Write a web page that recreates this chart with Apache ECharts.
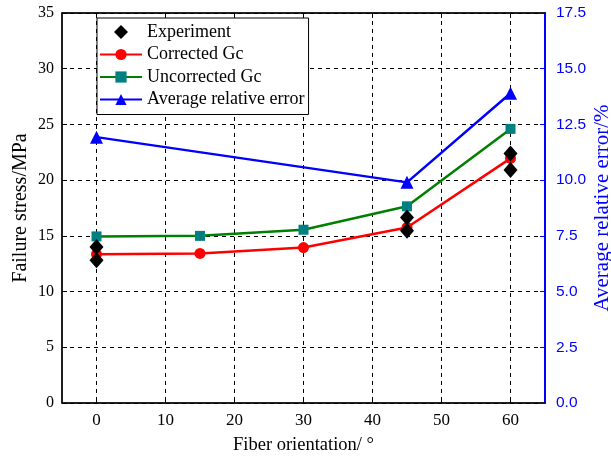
<!DOCTYPE html>
<html>
<head>
<meta charset="utf-8">
<script src="https://cdn.jsdelivr.net/npm/echarts@6/dist/echarts.min.js"></script>
<style>html,body{margin:0;padding:0;background:#fff}#c{width:611px;height:457px}</style>
</head>
<body>
<div id="c"></div>
<script>
// Fiber orientation (degrees)
var angles = [0, 15, 30, 45, 60];
var xTicks = [0, 10, 20, 30, 40, 50, 60];
// Measured failure stress (two specimens per orientation)
var expAngles = [0, 0, 45, 45, 60, 60];
var expStress = [14.0, 12.8, 16.65, 15.45, 22.4, 20.9];
// Predicted failure stress (MPa)
var correctedGc = [13.35, 13.42, 13.95, 15.75, 21.95];
var uncorrectedGc = [14.95, 15.0, 15.55, 17.65, 24.6];
// Average relative error (%)
var errAngles = [0, 45, 60];
var avgError = [11.93, 9.9, 13.9];

var serif = '"Liberation Serif", "Times New Roman", serif';
var sans = '"Liberation Sans", Arial, sans-serif';

function pairs(xs, ys) { return xs.map(function (x, i) { return [x, ys[i]]; }); }

var chart = echarts.init(document.getElementById('c'));
chart.setOption({
  animation: false,
  grid: {
    left: 62, right: 66, top: 13, bottom: 54,
    containLabel: false, outerBoundsMode: 'none',
    show: true, borderColor: '#000', borderWidth: 1
  },
  legend: {
    left: 97, top: 18, orient: 'vertical', itemGap: 4.5,
    itemWidth: 42, itemHeight: 14, symbolKeepAspect: true,
    borderColor: '#000', borderWidth: 1, backgroundColor: '#fff',
    padding: [5, 4, 6, 2],
    textStyle: { fontFamily: serif, fontSize: 18, color: '#000' },
    data: [
      { name: 'Experiment', icon: 'path://M0,-1L1,0L0,1L-1,0Z' },
      'Corrected Gc', 'Uncorrected Gc', 'Average relative error'
    ]
  },
  xAxis: [{
    type: 'value', min: -5, max: 65,
    name: 'Fiber orientation/ \u00b0', nameLocation: 'middle', nameGap: 33, nameMoveOverlap: false,
    nameTextStyle: { fontFamily: serif, fontSize: 18.5, color: '#000' },
    axisLine: { lineStyle: { color: '#000', width: 1.5 } },
    axisTick: { inside: true, customValues: xTicks, lineStyle: { color: '#000' } },
    axisLabel: { customValues: xTicks, fontFamily: serif, fontSize: 17, color: '#000', margin: 9 },
    splitLine: { show: true, customValues: xTicks, lineStyle: { color: '#000', type: [4, 4] } }
  }, {
    type: 'value', min: -5, max: 65, position: 'top',
    axisLine: { show: true, onZero: false, lineStyle: { color: '#000', width: 1.5 } },
    axisTick: { inside: true, customValues: xTicks, lineStyle: { color: '#000' } },
    axisLabel: { show: false },
    splitLine: { show: false }
  }],
  yAxis: [{
    type: 'value', min: 0, max: 35, interval: 5,
    name: 'Failure stress/MPa', nameLocation: 'middle', nameGap: 31, nameMoveOverlap: false,
    nameTextStyle: { fontFamily: serif, fontSize: 20, color: '#000' },
    axisLine: { show: true, onZero: false, lineStyle: { color: '#000', width: 1.5 } },
    axisTick: { show: true, inside: true, lineStyle: { color: '#000' } },
    axisLabel: { fontFamily: serif, fontSize: 16, color: '#000', margin: 8 },
    splitLine: { show: true, lineStyle: { color: '#000', type: [4, 4] } }
  }, {
    type: 'value', min: 0, max: 17.5, interval: 2.5, position: 'right',
    name: 'Average relative error/%', nameLocation: 'middle', nameGap: 47, nameRotate: 90,
    nameMoveOverlap: false,
    nameTextStyle: { fontFamily: serif, fontSize: 21, color: '#0000ff' },
    axisLine: { show: true, onZero: false, lineStyle: { color: '#0000ff', width: 2 } },
    axisTick: { show: true, inside: true, lineStyle: { color: '#0000ff' } },
    axisLabel: { fontFamily: sans, fontSize: 15.5, color: '#0000ff', margin: 11,
      formatter: function (v) { return v.toFixed(1); } },
    splitLine: { show: false }
  }],
  series: [{
    name: 'Experiment', type: 'scatter', symbol: 'diamond', symbolSize: [14, 16],
    itemStyle: { color: '#000', opacity: 1 }, z: 5,
    data: pairs(expAngles, expStress)
  }, {
    name: 'Corrected Gc', type: 'line', symbol: 'circle', symbolSize: 11,
    lineStyle: { color: '#ff0000', width: 2.5 }, itemStyle: { color: '#ff0000' }, z: 4,
    data: pairs(angles, correctedGc)
  }, {
    name: 'Uncorrected Gc', type: 'line', symbol: 'rect', symbolSize: 10,
    lineStyle: { color: '#008000', width: 2.5 }, itemStyle: { color: '#008080' }, z: 4,
    data: pairs(angles, uncorrectedGc)
  }, {
    name: 'Average relative error', type: 'line', symbol: 'triangle', symbolSize: 13,
    yAxisIndex: 1,
    lineStyle: { color: '#0000ff', width: 2.5 }, itemStyle: { color: '#0000ff' }, z: 4,
    data: pairs(errAngles, avgError)
  }]
});
</script>
</body>
</html>
